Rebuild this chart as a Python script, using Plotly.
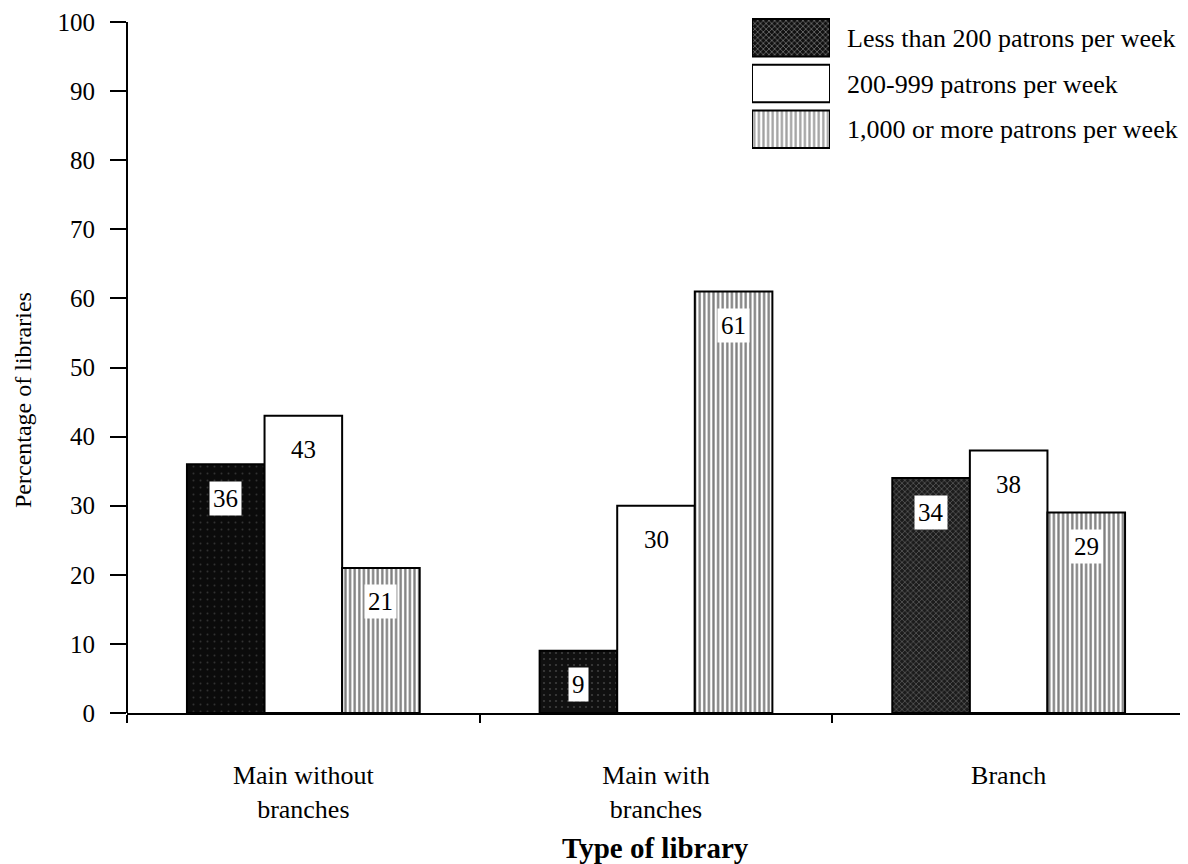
import plotly.graph_objects as go

# ---- data ----
categories = ["Main without<br>branches", "Main with<br>branches", "Branch"]
series_names = ["Less than 200 patrons per week",
                "200-999 patrons per week",
                "1,000 or more patrons per week"]
less_200 = [36, 9, 34]
mid_200_999 = [43, 30, 38]
over_1000 = [21, 61, 29]
y_ticks = list(range(0, 101, 10))

FONT = "Liberation Serif"
values = [less_200, mid_200_999, over_1000]

BARGAP = 0.34
bar_w = (1 - BARGAP) / 3

# page has an 8px body margin; figure is sized so the plot lands where the reference has it
W, H = 1180, 856
L, R, T, B = 119, 3, 0, 151
PW = W - L - R
PH = H - T - B

dark_pattern = dict(shape=[".", ".", "x"], fgcolor=["#5a5a5a", "#6a6a6a", "#b0b0b0"],
                    bgcolor=["#0b0b0b", "#101010", "#1c1c1c"], size=[7, 6, 4],
                    solidity=[0.06, 0.1, 0.3])
white_pattern = dict(shape="")
stripe_pattern = dict(shape="|", fgcolor="#000000", bgcolor="#ffffff", size=4.6, solidity=0.5)
patterns = [dark_pattern, white_pattern, stripe_pattern]
colors = ["#0b0b0b", "#ffffff", "#ffffff"]

fig = go.Figure()
for name, vals, pat, col in zip(series_names, values, patterns, colors):
    fig.add_trace(go.Bar(
        x=categories, y=vals, name=name,
        marker=dict(color=col, pattern=pat, line=dict(color="#000000", width=2)),
        showlegend=False, hoverinfo="skip",
    ))

# value labels
for si, vals in enumerate(values):
    off = (si - 1) * bar_w
    for ci, v in enumerate(vals):
        fig.add_annotation(x=ci + off, y=v, xref="x", yref="y", text=str(v),
                           showarrow=False, yshift=-34, yanchor="middle",
                           bgcolor="#ffffff", borderpad=3,
                           font=dict(family=FONT, size=25, color="#000000"))

# legend drawn as a small bar chart on its own axes
fig.add_trace(go.Bar(
    x=[1, 1, 1], y=series_names, orientation="h", xaxis="x2", yaxis="y2",
    width=0.82,
    marker=dict(color=["#111111", "#ffffff", "#ffffff"],
                pattern=dict(shape=["x", "", "|"], fgcolor=["#8a8a8a", "#000000", "#000000"],
                             bgcolor=["#111111", "#ffffff", "#ffffff"],
                             size=[4, 5, 4.6], solidity=[0.3, 0.3, 0.5]),
                line=dict(color="#000000", width=2)),
    showlegend=False, hoverinfo="skip",
))

# y axis line from 0 to 100
fig.add_shape(type="line", xref="paper", yref="y", x0=0, x1=0, y0=0, y1=100,
              line=dict(color="#000000", width=2))

fig.add_annotation(text="Percentage of libraries", xref="paper", yref="paper",
                   x=-104 / PW, y=(705 - 392) / PH, textangle=-90, showarrow=False,
                   xanchor="center", yanchor="middle",
                   font=dict(family=FONT, size=24, color="#000000"))
fig.add_annotation(text="<b>Type of library</b>", xref="paper", yref="paper",
                   x=(655 - 127) / PW, y=-135 / PH, showarrow=False,
                   xanchor="center", yanchor="middle",
                   font=dict(family=FONT, size=29, color="#000000"))

fig.update_layout(
    width=W, height=H,
    margin=dict(l=L, r=R, t=T, b=B),
    paper_bgcolor="#ffffff", plot_bgcolor="#ffffff",
    barmode="group", bargap=BARGAP, bargroupgap=0,
    font=dict(family=FONT, size=25, color="#000000"),
    xaxis=dict(showline=True, linecolor="#000000", linewidth=2,
               ticks="outside", tickson="boundaries", ticklen=8, tickwidth=2,
               tickcolor="#000000", showgrid=False, ticklabelstandoff=38,
               tickfont=dict(family=FONT, size=26)),
    yaxis=dict(range=[0, 100 * PH / 691], tickvals=y_ticks, showline=False,
               ticks="outside", ticklen=16, tickwidth=2, tickcolor="#000000",
               showgrid=False, zeroline=False, ticklabelstandoff=10,
               tickfont=dict(family=FONT, size=25)),
    xaxis2=dict(domain=[(752 - 127) / PW, (830 - 127) / PW], range=[0, 1],
                visible=False, anchor="y2"),
    yaxis2=dict(domain=[(705 - 144) / PH, (705 - 7) / PH], anchor="x2",
                side="right", autorange="reversed", showline=False, showgrid=False,
                zeroline=False, ticks="", ticklabelstandoff=16,
                tickfont=dict(family=FONT, size=26)),
)

fig.write_html("out.html")
